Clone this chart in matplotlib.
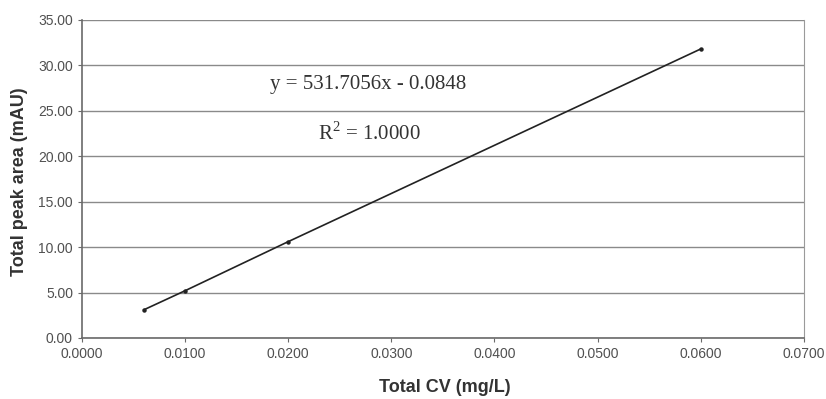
import numpy as np
import matplotlib
matplotlib.use("Agg")
import matplotlib.pyplot as plt

plt.rcParams["mathtext.fontset"] = "custom"
plt.rcParams["mathtext.rm"] = "Liberation Serif"

# Data
cv = [0.006, 0.010, 0.020, 0.060]
peak_area = [3.10, 5.20, 10.60, 31.80]

x_ticks = np.arange(0, 0.0701, 0.01)
y_ticks = np.arange(0, 35.01, 5)

equation = "y = 531.7056x - 0.0848"
r_squared = r"R$^{\mathrm{2}}$ = 1.0000"

fig = plt.figure(figsize=(8.26, 3.99), dpi=100)
ax = fig.add_axes([0.0993, 0.153, 0.8737, 0.797])

ax.plot(cv, peak_area, color="#222222", linewidth=1.2, marker="o", markersize=2.2)

ax.set_xlim(0, 0.07)
ax.set_ylim(0, 35)
ax.set_xticks(x_ticks)
ax.set_yticks(y_ticks)
ax.set_xticklabels(["%.4f" % v for v in x_ticks])
ax.set_yticklabels(["%.2f" % v for v in y_ticks])

# horizontal gridlines only
ax.grid(axis="y", color="#8a8a8a", linewidth=1.0)
ax.set_axisbelow(True)

ax.spines["top"].set_visible(False)
ax.spines["right"].set_color("#9a9a9a")
ax.spines["left"].set_color("#6a6a6a")
ax.spines["bottom"].set_color("#6a6a6a")
ax.spines["left"].set_linewidth(1.2)
ax.spines["bottom"].set_linewidth(1.2)

ax.tick_params(axis="both", direction="out", length=3, color="#6a6a6a",
               labelsize=10, labelcolor="#505050")
for lab in ax.get_xticklabels() + ax.get_yticklabels():
    lab.set_family("Liberation Sans")

# axis titles
fig.text(445 / 826, 1 - 387 / 399, "Total CV (mg/L)", fontsize=13, fontweight="bold",
         family="Liberation Sans", color="#333333", ha="center", va="center")
fig.text(20 / 826, 1 - 182 / 399, "Total peak area (mAU)", fontsize=13, fontweight="bold",
         family="Liberation Sans", color="#333333", ha="center", va="center",
         rotation=90)

# equation labels
ax.text(0.0182, 27.9, equation, fontsize=15, family="Liberation Serif",
        color="#333333", va="center")
ax.text(0.0229, 22.5, r_squared, fontsize=15, family="Liberation Serif",
        color="#333333", va="center")

plt.savefig("out.png", dpi=100)
